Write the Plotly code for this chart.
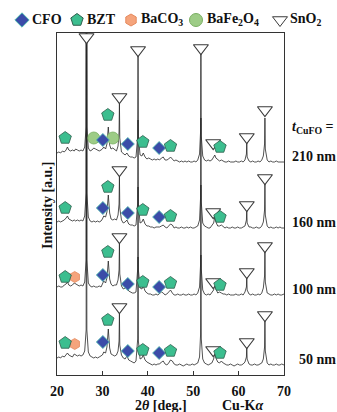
import plotly.graph_objects as go

# ---------------- data ----------------
TWO_THETA = [
    20.0, 20.4, 20.8, 21.2, 21.6, 22.0, 22.3, 22.6, 23.0, 23.4,
    23.8, 24.1, 24.5, 24.9, 25.3, 25.7, 26.1, 26.42, 26.5, 26.58,
    26.9, 27.3, 27.7, 28.1, 28.5, 28.9, 29.3, 29.7, 30.0, 30.3,
    30.7, 31.0, 31.3, 31.6, 31.9, 32.3, 32.7, 33.1, 33.45, 33.67,
    33.75, 33.83, 34.2, 34.6, 35.0, 35.4, 35.8, 36.2, 36.6, 37.0,
    37.4, 37.77, 37.85, 37.93, 38.3, 38.7, 39.0, 39.4, 39.8, 40.2,
    40.6, 41.0, 41.4, 41.8, 42.2, 42.6, 43.0, 43.4, 43.8, 44.2,
    44.6, 45.0, 45.4, 45.8, 46.2, 46.6, 47.0, 47.4, 47.8, 48.2,
    48.6, 49.0, 49.4, 49.8, 50.2, 50.6, 51.0, 51.4, 51.62, 51.7,
    51.78, 52.1, 52.5, 52.9, 53.3, 53.7, 54.1, 54.5, 54.75, 55.0,
    55.4, 55.8, 56.2, 56.6, 57.0, 57.4, 57.8, 58.2, 58.6, 59.0,
    59.4, 59.8, 60.2, 60.6, 61.0, 61.4, 61.72, 61.8, 61.88, 62.3,
    62.7, 63.1, 63.5, 63.9, 64.3, 64.7, 65.1, 65.45, 65.72, 65.8,
    65.88, 66.3, 66.7, 67.1, 67.5, 67.9, 68.3, 68.7, 69.1, 69.5,
    70.0,
]

I_50 = [
    17, 18, 17, 19, 18, 20, 22, 20, 19, 18,
    21, 20, 19, 20, 19, 20, 24, 45, 460, 45,
    23, 19, 18, 17, 18, 17, 18, 19, 20, 23,
    22, 28, 46, 27, 21, 20, 19, 20, 24, 34,
    62, 30, 20, 17, 16, 19, 15, 14, 13, 12,
    14, 36, 118, 34, 16, 17, 20, 15, 13, 12,
    11, 10, 11, 10, 11, 11, 13, 14, 11, 10,
    12, 15, 14, 11, 10, 10, 11, 10, 9, 10,
    11, 10, 10, 11, 10, 11, 12, 18, 40, 120,
    36, 16, 12, 11, 10, 11, 12, 16, 22, 17,
    13, 12, 14, 12, 11, 10, 10, 11, 10, 9,
    10, 11, 10, 10, 11, 13, 18, 29, 16, 11,
    10, 10, 11, 10, 10, 11, 12, 16, 28, 54,
    24, 12, 10, 11, 10, 10, 11, 10, 10, 11,
    10,
]

I_100 = [
    18, 19, 18, 18, 20, 21, 23, 20, 19, 20,
    22, 21, 20, 19, 20, 19, 23, 45, 460, 45,
    22, 19, 18, 19, 18, 18, 19, 18, 21, 24,
    22, 27, 44, 26, 21, 19, 20, 20, 25, 35,
    62, 31, 19, 16, 17, 18, 14, 13, 12, 12,
    13, 36, 118, 35, 17, 16, 19, 14, 12, 11,
    11, 10, 10, 11, 10, 12, 13, 12, 10, 11,
    13, 15, 12, 10, 10, 11, 10, 10, 11, 10,
    10, 11, 10, 10, 11, 10, 12, 18, 40, 120,
    36, 15, 11, 10, 11, 10, 12, 15, 21, 16,
    12, 13, 12, 11, 11, 10, 11, 10, 10, 10,
    11, 10, 10, 11, 10, 13, 18, 29, 15, 11,
    10, 11, 10, 10, 11, 10, 12, 17, 29, 54,
    23, 12, 11, 10, 10, 11, 10, 11, 10, 10,
    11,
]

I_160 = [
    16, 17, 16, 17, 18, 20, 22, 19, 18, 17,
    18, 17, 18, 17, 18, 17, 22, 45, 460, 45,
    21, 17, 16, 17, 16, 17, 16, 17, 19, 22,
    21, 26, 43, 25, 19, 18, 19, 18, 23, 34,
    62, 30, 18, 15, 16, 18, 14, 13, 13, 12,
    13, 35, 118, 34, 15, 16, 19, 14, 12, 12,
    11, 11, 10, 11, 11, 11, 12, 13, 11, 10,
    12, 14, 13, 10, 11, 10, 10, 11, 10, 10,
    11, 10, 11, 10, 10, 11, 12, 18, 40, 120,
    36, 15, 12, 11, 10, 10, 12, 15, 21, 16,
    12, 12, 13, 11, 10, 11, 10, 10, 11, 10,
    10, 11, 10, 10, 11, 12, 18, 29, 15, 11,
    11, 10, 10, 11, 10, 10, 12, 16, 28, 54,
    23, 12, 10, 11, 10, 10, 11, 10, 11, 10,
    10,
]

I_210 = [
    19, 20, 19, 21, 20, 22, 25, 22, 21, 22,
    21, 23, 22, 21, 22, 21, 25, 45, 460, 45,
    24, 21, 22, 24, 23, 22, 21, 22, 23, 25,
    23, 28, 45, 27, 23, 24, 22, 21, 26, 40,
    69, 34, 20, 18, 17, 19, 16, 15, 15, 14,
    15, 35, 116, 35, 17, 16, 19, 15, 13, 14,
    13, 12, 13, 12, 13, 12, 14, 15, 12, 12,
    13, 15, 13, 11, 12, 11, 10, 11, 10, 11,
    10, 11, 10, 10, 11, 10, 12, 18, 40, 118,
    36, 16, 12, 11, 12, 11, 12, 15, 17, 14,
    12, 11, 12, 11, 10, 10, 11, 10, 10, 10,
    11, 10, 10, 11, 10, 12, 18, 29, 15, 11,
    10, 11, 10, 10, 11, 10, 12, 16, 28, 54,
    23, 12, 10, 11, 10, 10, 11, 10, 10, 10,
    10,
]

SAMPLES = ["50 nm", "100 nm", "160 nm", "210 nm"]
SPECTRA = [I_50, I_100, I_160, I_210]

# phase markers: 2theta, sample index (0=50 nm ... 3=210 nm), height above that trace's baseline
CFO_2T = [30.1, 35.6, 42.5, 30.1, 35.6, 42.5, 30.1, 35.6, 42.5, 30.1, 35.6, 42.5]
CFO_S = [0, 0, 0, 1, 1, 1, 2, 2, 2, 3, 3, 3]
CFO_H = [33, 24, 22, 30, 21, 18, 30, 25, 21, 32, 28, 24]

BZT_2T = [21.8, 31.2, 38.9, 45.0, 55.9, 21.8, 31.2, 38.9, 45.0, 55.9,
          21.8, 31.2, 38.9, 45.0, 55.9, 21.8, 31.2, 38.9, 45.0, 55.9]
BZT_S = [0, 0, 0, 0, 0, 1, 1, 1, 1, 1, 2, 2, 2, 2, 2, 3, 3, 3, 3, 3]
BZT_H = [32, 55, 25, 24, 22, 28, 53, 23, 22, 20, 30, 51, 28, 22, 21, 34, 57, 30, 26, 25]

BACO3_2T = [23.9, 23.9]
BACO3_S = [0, 1]
BACO3_H = [31, 28]

BAFE2O4_2T = [28.1, 32.3]
BAFE2O4_S = [3, 3]
BAFE2O4_H = [34, 34]

SNO2_2T = [33.75, 54.4, 61.8, 65.8, 33.75, 54.4, 61.8, 65.8, 33.75, 54.4, 61.8, 65.8,
           26.5, 33.75, 37.85, 51.7, 54.4, 61.8, 65.8]
SNO2_S = [0, 0, 0, 0, 1, 1, 1, 1, 2, 2, 2, 2, 3, 3, 3, 3, 3, 3, 3]
SNO2_H = [68, 25, 33, 60, 68, 23, 33, 59, 68, 26, 33, 60, 135, 75, 122, 124, 29, 35, 62]

X_TICKS = [20, 30, 40, 50, 60, 70]

# ---------------- layout constants ----------------
W, H = 337, 412
OFFSETS = [0, 70, 137, 203]
FONT = "Liberation Serif"
BOX_L, BOX_R, BOX_T, BOX_B = 57, 284, 33, 375

C_CFO, C_CFO_LINE = "#3B4CA8", "#4FB9B0"
C_BZT, C_BZT_LINE = "#3CBE8F", "#2E5E4C"
C_BACO3, C_BACO3_LINE = "#F5A47C", "#E58A5E"
C_BAFE, C_BAFE_LINE = "#9DCC86", "#7AAE62"

fig = go.Figure()

for name, vals, off in zip(SAMPLES, SPECTRA, OFFSETS):
    fig.add_trace(go.Scatter(
        x=TWO_THETA, y=[v + off for v in vals], mode="lines",
        line=dict(color="#262626", width=0.8), name=name,
        showlegend=False, hoverinfo="skip"))


def marker_trace(xs, ss, hs, symbol, size, color, lcolor, lwidth):
    return go.Scatter(
        x=xs, y=[OFFSETS[s] + h for s, h in zip(ss, hs)], mode="markers",
        marker=dict(symbol=symbol, size=size, color=color,
                    line=dict(color=lcolor, width=lwidth)),
        cliponaxis=False, showlegend=False, hoverinfo="skip")


fig.add_trace(marker_trace(SNO2_2T, SNO2_S, SNO2_H, "triangle-down", 13, "white", "#3a3a3a", 1.1))
fig.add_trace(marker_trace(BAFE2O4_2T, BAFE2O4_S, BAFE2O4_H, "circle", 12, C_BAFE, C_BAFE_LINE, 0.8))
fig.add_trace(marker_trace(BACO3_2T, BACO3_S, BACO3_H, "hexagon", 11, C_BACO3, C_BACO3_LINE, 0.8))
fig.add_trace(marker_trace(CFO_2T, CFO_S, CFO_H, "diamond", 10, C_CFO, C_CFO_LINE, 0.9))
fig.add_trace(marker_trace(BZT_2T, BZT_S, BZT_H, "pentagon", 13, C_BZT, C_BZT_LINE, 0.8))

# ---------------- legend row (pixel overlay axes) ----------------
LEG_Y = 20
leg_items = [
    (22, "diamond", 11, C_CFO, C_CFO_LINE, "CFO", 30),
    (77, "pentagon", 13, C_BZT, C_BZT_LINE, "BZT", 85),
    (131, "hexagon", 12, C_BACO3, C_BACO3_LINE, "BaCO<sub>3</sub>", 139),
    (196, "circle", 13, C_BAFE, C_BAFE_LINE, "BaFe<sub>2</sub>O<sub>4</sub>", 205),
    (280, "triangle-down", 13, "white", "#3a3a3a", "SnO<sub>2</sub>", 288),
]
for px, sym, sz, col, lcol, label, tx in leg_items:
    fig.add_trace(go.Scatter(
        x=[px], y=[LEG_Y], xaxis="x2", yaxis="y2", mode="markers",
        marker=dict(symbol=sym, size=sz, color=col, line=dict(color=lcol, width=1)),
        showlegend=False, hoverinfo="skip", cliponaxis=False))
    fig.add_annotation(text=label, xref="paper", yref="paper",
                       x=tx / W, y=1 - LEG_Y / H, xanchor="left", yanchor="middle",
                       showarrow=False,
                       font=dict(family=FONT, size=14, color="#111", weight="bold"))

# ---------------- right-hand labels ----------------
fig.add_annotation(text="<i>t</i><sub>CuFO</sub> =", xref="paper", yref="y",
                   x=290 / W, y=OFFSETS[3] + 44, xanchor="left", yanchor="middle",
                   showarrow=False, font=dict(family=FONT, size=14, color="#111", weight="bold"))
for name, off in zip(SAMPLES, OFFSETS):
    fig.add_annotation(text=name, xref="paper", yref="y",
                       x=(297 if len(name) < 6 else 290) / W, y=off + 16,
                       xanchor="left", yanchor="middle", showarrow=False,
                       font=dict(family=FONT, size=14, color="#111", weight="bold"))

# axis titles
fig.add_annotation(text="Intensity [a.u.]", xref="paper", yref="paper",
                   x=47 / W, y=1 - 205 / H, textangle=-90, showarrow=False,
                   xanchor="center", yanchor="middle",
                   font=dict(family=FONT, size=14, color="#111", weight="bold"))
fig.add_annotation(text="2<i>θ</i> [deg.]", xref="paper", yref="paper",
                   x=161 / W, y=1 - 405 / H, showarrow=False,
                   xanchor="center", yanchor="middle",
                   font=dict(family=FONT, size=14, color="#111", weight="bold"))
fig.add_annotation(text="Cu-K<i>α</i>", xref="paper", yref="paper",
                   x=242 / W, y=1 - 405 / H, showarrow=False,
                   xanchor="center", yanchor="middle",
                   font=dict(family=FONT, size=14, color="#111", weight="bold"))

fig.update_layout(
    width=W, height=H,
    margin=dict(l=0, r=0, t=0, b=0, pad=0),
    paper_bgcolor="white", plot_bgcolor="rgba(0,0,0,0)",
    showlegend=False,
    xaxis=dict(domain=[BOX_L / W, BOX_R / W], range=[20, 70], tickvals=X_TICKS,
               ticktext=[str(t) for t in X_TICKS],
               ticks="inside", ticklen=4, tickwidth=1, tickcolor="#333",
               showline=True, mirror=True, linecolor="#333", linewidth=1,
               showgrid=False, zeroline=False, automargin=False,
               ticklabelstandoff=3,
               tickfont=dict(family=FONT, size=14, color="#111", weight="bold")),
    yaxis=dict(domain=[1 - BOX_B / H, 1 - BOX_T / H], range=[0, BOX_B - BOX_T],
               showticklabels=False, ticks="", showline=True, mirror=True,
               linecolor="#333", linewidth=1, showgrid=False, zeroline=False,
               automargin=False),
    xaxis2=dict(domain=[0, 1], range=[0, W], visible=False, anchor="y2", automargin=False),
    yaxis2=dict(domain=[0, 1], range=[H, 0], visible=False, anchor="x2", automargin=False),
)

fig.write_html("out.html")
